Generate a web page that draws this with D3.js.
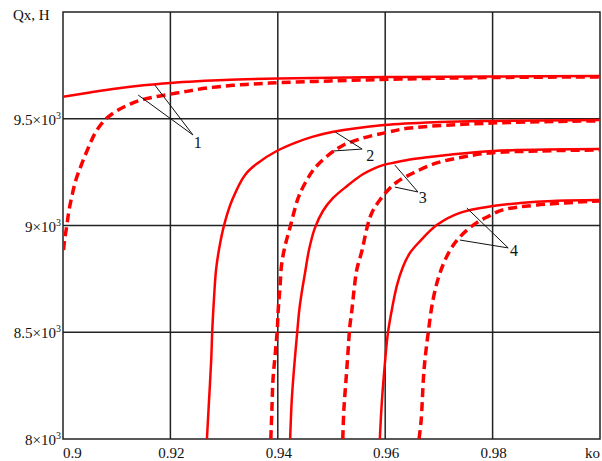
<!DOCTYPE html>
<html>
<head>
<meta charset="utf-8">
<script src="https://cdn.jsdelivr.net/npm/d3@7"></script>
<style>
  body { margin: 0; background: #fff; }
  svg { display: block; }
  text { font-family: "Liberation Serif", "Times New Roman", serif; fill: #111; }
</style>
</head>
<body>
<svg width="602" height="461"></svg>
<script>
// axis ticks
const xTicks = [0.9, 0.92, 0.94, 0.96, 0.98];
const yTicks = [8000, 8500, 9000, 9500];

// curves: [ko, Qx]
const curve1Solid = [[0.9,9603],[0.905,9623],[0.91,9642],[0.915,9657],[0.92,9668],[0.925,9676],[0.93,9682],[0.94,9688],[0.96,9695],[0.98,9698],[1.0,9700]];
const curve1Dash = [[0.9001,8885],[0.9003,8932],[0.9007,8998],[0.9011,9068],[0.9017,9143],[0.9024,9213],[0.9034,9283],[0.9047,9363],[0.9061,9438],[0.9078,9494],[0.9097,9532],[0.9125,9569],[0.9153,9593],[0.9181,9607],[0.9223,9625],[0.9268,9644],[0.9324,9658],[0.9385,9667],[0.9497,9677],[0.9628,9686],[0.9799,9693],[1.0,9696]];
const curve2Solid = [[0.9268,8000],[0.9272,8183],[0.9276,8370],[0.9278,8511],[0.9281,8651],[0.9285,8792],[0.9291,8895],[0.93,9002],[0.9315,9119],[0.9339,9237],[0.9363,9293],[0.9398,9349],[0.9432,9387],[0.9464,9415],[0.9501,9438],[0.9598,9471],[0.9702,9485],[0.9799,9490],[1.0,9494]];
const curve2Dash = [[0.9387,8000],[0.9389,8136],[0.9391,8276],[0.9395,8393],[0.9399,8511],[0.9401,8614],[0.9404,8707],[0.9407,8815],[0.9413,8899],[0.9423,8993],[0.9438,9129],[0.9451,9199],[0.9469,9269],[0.9497,9335],[0.9521,9375],[0.9559,9410],[0.9603,9436],[0.9641,9455],[0.9799,9480],[1.0,9490]];
const curve3Solid = [[0.9423,8000],[0.9426,8183],[0.943,8323],[0.9436,8496],[0.944,8604],[0.9445,8693],[0.9451,8782],[0.9458,8885],[0.9469,8988],[0.9484,9068],[0.9503,9129],[0.9529,9185],[0.9559,9241],[0.9581,9269],[0.9596,9283],[0.9618,9295],[0.9652,9311],[0.9715,9330],[0.9801,9349],[1.0,9358]];
const curve3Dash = [[0.9521,8000],[0.9523,8136],[0.9527,8276],[0.9531,8417],[0.9534,8525],[0.9538,8604],[0.9542,8698],[0.9547,8792],[0.9557,8885],[0.9566,8988],[0.9575,9059],[0.959,9119],[0.9609,9176],[0.9622,9204],[0.9652,9246],[0.9696,9293],[0.9745,9321],[0.9795,9340],[0.9888,9349],[1.0,9354]];
const curve4Solid = [[0.959,8000],[0.9594,8183],[0.96,8370],[0.9605,8496],[0.9613,8614],[0.9622,8721],[0.9633,8806],[0.9646,8871],[0.9665,8927],[0.9696,9002],[0.9739,9059],[0.9801,9091],[0.9851,9105],[0.9912,9115],[1.0,9119]];
const curve4Dash = [[0.9663,8000],[0.9667,8089],[0.9671,8276],[0.9674,8370],[0.968,8496],[0.9689,8651],[0.9702,8778],[0.9721,8885],[0.9739,8946],[0.9764,9002],[0.979,9040],[0.9819,9073],[0.9883,9096],[1.0,9115]];

// curve labels: text position, leader end, leader starts
const labelNames = ["1", "2", "3", "4"];
const labelPos = [[0.9251,9391],[0.9572,9330],[0.967,9133],[0.984,8885]];
const leaderEnd = [[0.9242,9424],[0.9557,9358],[0.9661,9157],[0.9829,8895]];
const leaderStartA = [[0.9171,9658],[0.9507,9438],[0.9618,9283],[0.9752,9082]];
const leaderStartB = [[0.914,9611],[0.9503,9349],[0.9618,9180],[0.9739,8932]];

const svg = d3.select("svg");
const plotL = 63, plotR = 600, plotT = 12, plotB = 439;

const x = d3.scaleLinear().domain([0.9, 1.0]).range([plotL, plotR]);
const y = d3.scaleLinear().domain([8000, 10000]).range([plotB, plotT]);

svg.append("clipPath").attr("id", "plot")
  .append("rect").attr("x", plotL).attr("y", plotT).attr("width", plotR - plotL).attr("height", plotB - plotT);

// grid
svg.selectAll(".vgrid").data(xTicks.slice(1)).enter().append("line")
  .attr("x1", d => x(d)).attr("x2", d => x(d))
  .attr("y1", plotT).attr("y2", plotB)
  .style("stroke", "#222").style("stroke-width", 1.5);
svg.selectAll(".hgrid").data(yTicks.slice(1)).enter().append("line")
  .attr("x1", plotL).attr("x2", plotR)
  .attr("y1", d => y(d)).attr("y2", d => y(d))
  .style("stroke", "#222").style("stroke-width", 1.5);

// frame
svg.append("rect")
  .attr("x", plotL).attr("y", plotT).attr("width", plotR - plotL).attr("height", plotB - plotT)
  .style("fill", "none").style("stroke", "#222").style("stroke-width", 1.5);

// curves
const line = d3.line().x(d => x(d[0])).y(d => y(d[1])).curve(d3.curveCatmullRom.alpha(0.5));
const g = svg.append("g").attr("clip-path", "url(#plot)");
[curve1Solid, curve2Solid, curve3Solid, curve4Solid].forEach(c => {
  g.append("path").attr("d", line(c))
    .style("fill", "none").style("stroke", "#ff0000").style("stroke-width", 2.5);
});
[curve1Dash, curve2Dash, curve3Dash, curve4Dash].forEach(c => {
  g.append("path").attr("d", line(c))
    .style("fill", "none").style("stroke", "#ff0000").style("stroke-width", 3.5)
    .style("stroke-dasharray", "9,5");
});

// leaders and labels
labelNames.forEach((name, i) => {
  [leaderStartA[i], leaderStartB[i]].forEach(s => {
    svg.append("line")
      .attr("x1", x(s[0])).attr("y1", y(s[1]))
      .attr("x2", x(leaderEnd[i][0])).attr("y2", y(leaderEnd[i][1]))
      .style("stroke", "#111").style("stroke-width", 1);
  });
  svg.append("text")
    .attr("x", x(labelPos[i][0])).attr("y", y(labelPos[i][1]) + 6)
    .attr("text-anchor", "middle")
    .style("font-size", "16px")
    .text(name);
});

// y tick labels
yTicks.forEach(v => {
  const t = svg.append("text")
    .attr("x", 61).attr("y", y(v) + 6)
    .attr("text-anchor", "end")
    .style("font-size", "15px");
  t.append("tspan").text(d3.format("~g")(v / 1000) + "×10");
  t.append("tspan").attr("dy", -6).style("font-size", "10px").text("3");
});

// x tick labels
xTicks.forEach((v, i) => {
  svg.append("text")
    .attr("x", i === 0 ? plotL : x(v) + 1)
    .attr("y", 458)
    .attr("text-anchor", i === 0 ? "start" : "middle")
    .style("font-size", "15px")
    .text(v);
});

// axis titles
svg.append("text").attr("x", plotR).attr("y", 458).attr("text-anchor", "end")
  .style("font-size", "15px").text("ko");
svg.append("text").attr("x", 13).attr("y", 20)
  .style("font-size", "15px").text("Qx, H");
</script>
</body>
</html>
